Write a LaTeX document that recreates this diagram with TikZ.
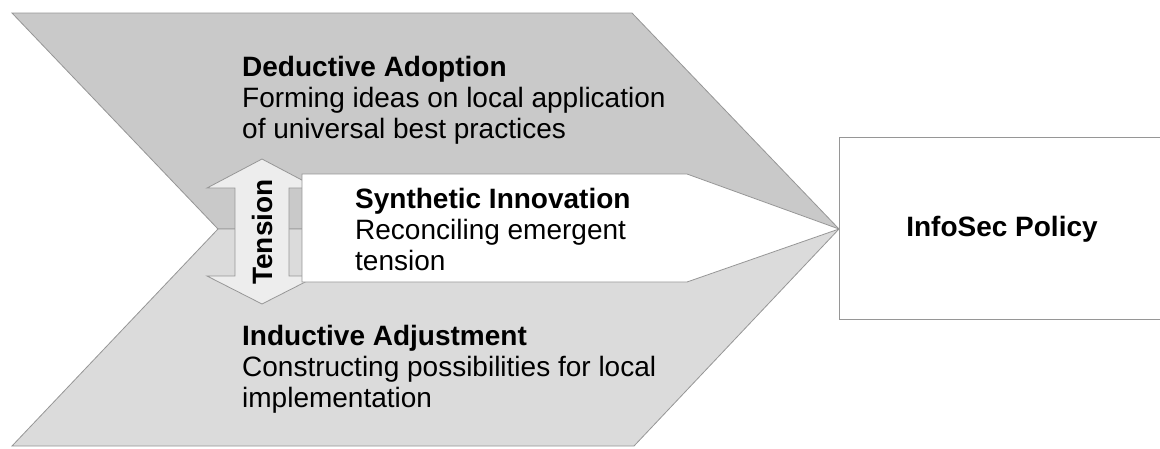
\documentclass[tikz,border=0pt]{standalone}
\usepackage{fontspec}
\setmainfont{Liberation Sans}
\usetikzlibrary{positioning}
\definecolor{topgray}{RGB}{201,201,201}
\definecolor{lowgray}{RGB}{219,219,219}
\definecolor{tengray}{RGB}{237,237,237}
\definecolor{edgegray}{RGB}{150,150,150}

\begin{document}
\begin{tikzpicture}[x=1pt,y=-1pt,line join=miter,
        band/.style={draw=edgegray,line width=0.8pt},
        label text/.style={align=left,inner sep=0pt,anchor=base west,
            font=\fontsize{28}{30.8}\selectfont},
        head text/.style={font=\fontsize{28}{30.8}\selectfont\bfseries,inner sep=0pt}]

    \useasboundingbox (0,0) rectangle (1160,448);

    \coordinate (tip) at (839,229);
    \coordinate (notch) at (218,229);

    % upper and lower halves of the chevron
    \path[band,fill=topgray] (12,13) -- (632,13) -- (tip) -- (notch) -- cycle;
    \path[band,fill=lowgray] (notch) -- (tip) -- (634,446) -- (12,446) -- cycle;

    % double arrow
    \path[band,fill=tengray] (262,159) -- (317,188) -- (289,188) -- (289,276)
        -- (317,276) -- (262,304) -- (207,276) -- (235,276) -- (235,188)
        -- (207,188) -- cycle;

    % middle arrow
    \path[band,fill=white] (302,174) -- (687,174) -- (tip) -- (687,282)
        -- (302,282) -- cycle;

    \node[band,fill=white,minimum width=330pt,minimum height=182pt,
        anchor=north west] (policy) at (839,137) {};
    \node[head text] (policytext) at (1002,229) {InfoSec Policy};

    \node[head text,rotate=90] (tension) at (262,232) {Tension};

    \node[label text] (deductive) at (242,138)
        {\textbf{Deductive Adoption}\\Forming ideas on local application\\of universal best practices};
    \node[label text] (synthetic) at (355,270)
        {\textbf{Synthetic Innovation}\\Reconciling emergent\\tension};
    \node[label text] (inductive) at (242,407)
        {\textbf{Inductive Adjustment}\\Constructing possibilities for local\\implementation};

\end{tikzpicture}
\end{document}
